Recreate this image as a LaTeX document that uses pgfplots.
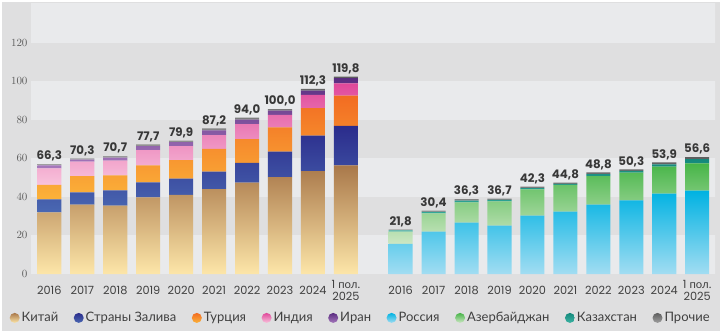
\documentclass[border=0pt]{standalone}
\usepackage{pgfplots}
\pgfplotsset{compat=1.18}
\usepackage{pgfplotstable}
\usepackage{fontspec}
\setmainfont{Poppins}
\newfontfamily\cyr{Lato}

\definecolor{bglight}{HTML}{E9EAEC}
\definecolor{bgdark}{HTML}{DFDFE0}
\definecolor{chinaT}{HTML}{A9784A}
\definecolor{chinaB}{HTML}{FDE6A9}
\definecolor{gulfT}{HTML}{2B2C8C}
\definecolor{gulfB}{HTML}{4A68B2}
\definecolor{turT}{HTML}{F26C22}
\definecolor{turB}{HTML}{FBB23A}
\definecolor{indT}{HTML}{E0489A}
\definecolor{indB}{HTML}{F8C3DC}
\definecolor{iranT}{HTML}{5A2C80}
\definecolor{iranB}{HTML}{A678BC}
\definecolor{othT}{HTML}{5E5E5E}
\definecolor{othB}{HTML}{A0A0A0}
\definecolor{rusT}{HTML}{00B2E2}
\definecolor{rusB}{HTML}{A2DDF2}
\definecolor{azT}{HTML}{47B548}
\definecolor{azB}{HTML}{CDE7C4}
\definecolor{kazT}{HTML}{14897C}
\definecolor{kazB}{HTML}{3DB3A3}
\definecolor{lblc}{HTML}{383838}
\definecolor{tickc}{HTML}{5C5C5C}
\definecolor{xtickc}{HTML}{404040}

\pgfplotstableread{
x china gulf turkey india iran other top lbl
0 32.0 6.7 7.5 8.6 1.6 0.6 57.0 66,3
1 36.0 6.4 8.4 7.5 1.1 0.6 60.0 70,3
2 35.5 7.9 7.8 7.6 1.6 0.8 61.2 70,7
3 39.8 7.8 8.8 7.9 2.0 1.0 67.3 77,7
4 41.0 8.5 9.6 7.3 2.0 0.8 69.2 79,9
5 44.1 9.0 11.8 7.2 2.4 1.1 75.6 87,2
6 47.4 10.3 12.3 7.8 2.3 1.0 81.1 94,0
7 50.2 13.3 12.6 6.4 2.2 0.9 85.6 100,0
8 53.4 18.4 14.2 6.9 2.3 0.9 96.1 112,3
9 56.4 20.4 15.7 6.4 2.7 0.8 102.4 119,8
}\leftdata

\pgfplotstableread{
x russia azer kaz other top lbl
10.66 15.6 6.4 0.6 0.6 23.2 21,8
11.66 22.0 9.5 0.7 0.7 32.9 30,4
12.66 26.6 10.6 0.9 0.8 38.9 36,3
13.66 25.1 12.6 0.7 0.7 39.1 36,7
14.66 30.3 13.6 0.7 0.7 45.3 42,3
15.66 32.3 13.9 0.6 0.6 47.4 44,8
16.66 36.0 14.8 1.0 0.9 52.7 48,8
17.66 38.2 14.4 0.9 0.8 54.3 50,3
18.66 41.7 14.0 1.2 1.0 57.9 53,9
19.66 43.2 14.2 2.2 1.1 60.7 56,6
}\rightdata

\pgfplotsset{
  dot/.style={legend image code/.code={\draw[##1,draw=none] (4pt,0pt) circle (5pt);}},
  china/.style={draw=none, top color=chinaT, bottom color=chinaB, dot},
  gulf/.style={draw=none, top color=gulfT, bottom color=gulfB, dot},
  turkey/.style={draw=none, top color=turT, bottom color=turB, dot},
  india/.style={draw=none, top color=indT, bottom color=indB, dot},
  iran/.style={draw=none, top color=iranT, bottom color=iranB, dot},
  others/.style={draw=none, top color=othT, bottom color=othB, dot},
  russia/.style={draw=none, top color=rusT, bottom color=rusB, dot},
  azer/.style={draw=none, top color=azT, bottom color=azB, dot},
  kaz/.style={draw=none, top color=kazT, bottom color=kazB, dot},
  geom/.style={at={(31pt,59pt)}, anchor=south west, scale only axis,
    width=684pt, height=271pt, xmin=-0.556, xmax=20.2, ymin=0, ymax=140.6},
  base/.style={geom, ybar stacked, bar width=0.73},
  lbls/.style={draw=none, mark=none, nodes near coords,
    point meta=explicit symbolic,
    nodes near coords style={font=\bfseries\fontsize{11.8}{13}\selectfont, text=lblc, anchor=south, inner sep=2.5pt}},
}

\begin{document}
\begin{tikzpicture}
\fill[white] (0,0) rectangle (720pt,333pt);
\fill[bgdark] (2pt,2pt) rectangle (720pt,331pt);
\path[use as bounding box] (0,0) rectangle (720pt,333pt);

% background bands
\begin{axis}[geom, hide axis]
\fill[bglight] (axis cs:-1,0) rectangle (axis cs:21,150);
\fill[bgdark] (axis cs:-1,20) rectangle (axis cs:21,40);
\fill[bgdark] (axis cs:-1,60) rectangle (axis cs:21,80);
\fill[bgdark] (axis cs:-1,100) rectangle (axis cs:21,120);
\end{axis}

\begin{axis}[base,
  axis line style={draw=none}, major tick length=0pt,
  ytick={0,20,...,120},
  xtick={0,1,2,3,4,5,6,7,8,9,10.66,11.66,12.66,13.66,14.66,15.66,16.66,17.66,18.66,19.66},
  xticklabels={2016,2017,2018,2019,2020,2021,2022,2023,2024,{1 {\cyr пол.}\\2025},2016,2017,2018,2019,2020,2021,2022,2023,2024,{1 {\cyr пол.}\\2025}},
  xticklabel style={align=center, anchor=center, yshift=-16.5pt, text=xtickc, font=\fontsize{11.3}{12}\selectfont},
  yticklabel style={text=tickc, font=\fontsize{11.3}{12}\selectfont},
]
\addplot[china] table[x=x,y=china]{\leftdata};
\addplot[gulf] table[x=x,y=gulf]{\leftdata};
\addplot[turkey] table[x=x,y=turkey]{\leftdata};
\addplot[india] table[x=x,y=india]{\leftdata};
\addplot[iran] table[x=x,y=iran]{\leftdata};
\addplot[others] table[x=x,y=other]{\leftdata};
\end{axis}

\begin{axis}[base, hide axis,
  legend columns=9,
  legend style={at={(0.482,-0.162)}, anchor=center, draw=none, fill=none,
    font=\cyr\fontsize{13}{15}\selectfont, text=xtickc,
    nodes={inner sep=2pt},
    /tikz/every even column/.append style={column sep=13.5pt}},
]
\addlegendimage{china}
\addlegendentry{Китай}
\addlegendimage{gulf}
\addlegendentry{Страны Залива}
\addlegendimage{turkey}
\addlegendentry{Турция}
\addlegendimage{india}
\addlegendentry{Индия}
\addlegendimage{iran}
\addlegendentry{Иран}
\addplot[russia] table[x=x,y=russia]{\rightdata};
\addlegendentry{Россия}
\addplot[azer] table[x=x,y=azer]{\rightdata};
\addlegendentry{Азербайджан}
\addplot[kaz] table[x=x,y=kaz]{\rightdata};
\addlegendentry{Казахстан}
\addplot[others] table[x=x,y=other]{\rightdata};
\addlegendentry{Прочие}
\end{axis}

% value labels
\begin{axis}[geom, hide axis, clip=false]
\addplot[lbls] table[x=x,y=top,meta=lbl]{\leftdata};
\addplot[lbls] table[x=x,y=top,meta=lbl]{\rightdata};
\end{axis}
\end{tikzpicture}
\end{document}
